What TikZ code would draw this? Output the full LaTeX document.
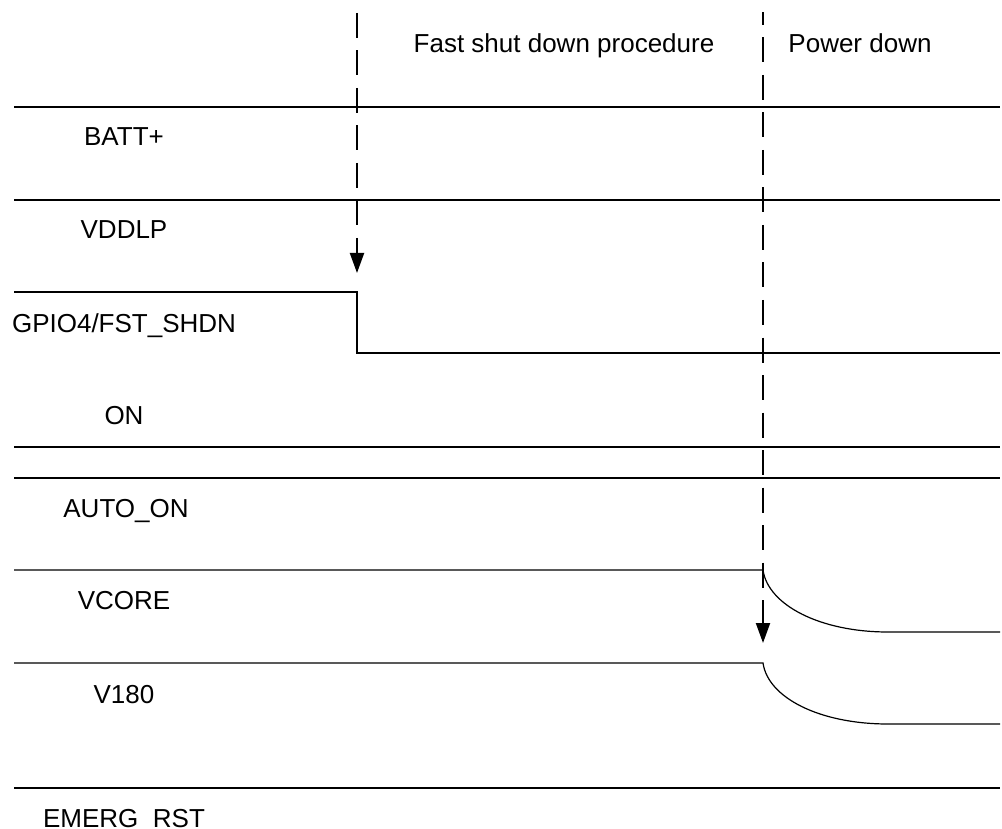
\documentclass[tikz,border=0pt]{standalone}
\usepackage{fontspec}
\setmainfont{Liberation Sans}
\usetikzlibrary{arrows.meta}
\begin{document}
\begin{tikzpicture}[x=1pt,y=-1pt,
  sig/.style={line width=1.2pt, line join=miter},
  lbl/.style={anchor=base, inner sep=0pt, font=\fontsize{26}{30}\selectfont},
  marker/.style={line width=2pt, dash pattern=on 25pt off 12.5pt, -{Triangle[length=20pt,width=14pt]}}]
\useasboundingbox (0,0) rectangle (1002,829);
% labels
\node[lbl] (tfast) at (564,53) {Fast shut down procedure};
\node[lbl] (tpow) at (860,53) {Power down};
\node[lbl] (lbatt) at (124,146) {BATT+};
\node[lbl] (lvdd) at (124,239) {VDDLP};
\node[lbl] (lgpio) at (124,332) {GPIO4/FST\_SHDN};
\node[lbl] (lon) at (124,424) {ON};
\node[lbl] (lauto) at (126,517) {AUTO\_ON};
\node[lbl] (lvcore) at (124,609) {VCORE};
\node[lbl] (lv180) at (124,703) {V180};
\node[lbl] (lemerg) at (124,827) {EMERG\_RST};
% signals
\draw[sig] (14,107) -- (1000,107);
\draw[sig] (14,200) -- (1000,200);
\draw[sig] (14,292) -- (357,292) -- (357,353) -- (1000,353);
\draw[sig] (14,447) -- (1000,447);
\draw[sig] (14,478) -- (1000,478);
\draw[sig] (14,570) -- (763,570) .. controls (768,605) and (820,632) .. (888,632) -- (1000,632);
\draw[sig] (14,663) -- (763,663) .. controls (768,698) and (820,724) .. (888,724) -- (1000,724);
\draw[sig] (14,788) -- (1000,788);
% markers
\coordinate (m1s) at (357,13);
\coordinate (m1e) at (357,273);
\coordinate (m2s) at (763,12.5);
\coordinate (m2e) at (763,643);
\draw[marker] (m1s) -- (m1e);
\draw[marker, dash phase=12.5pt] (m2s) -- (m2e);
\end{tikzpicture}
\end{document}
